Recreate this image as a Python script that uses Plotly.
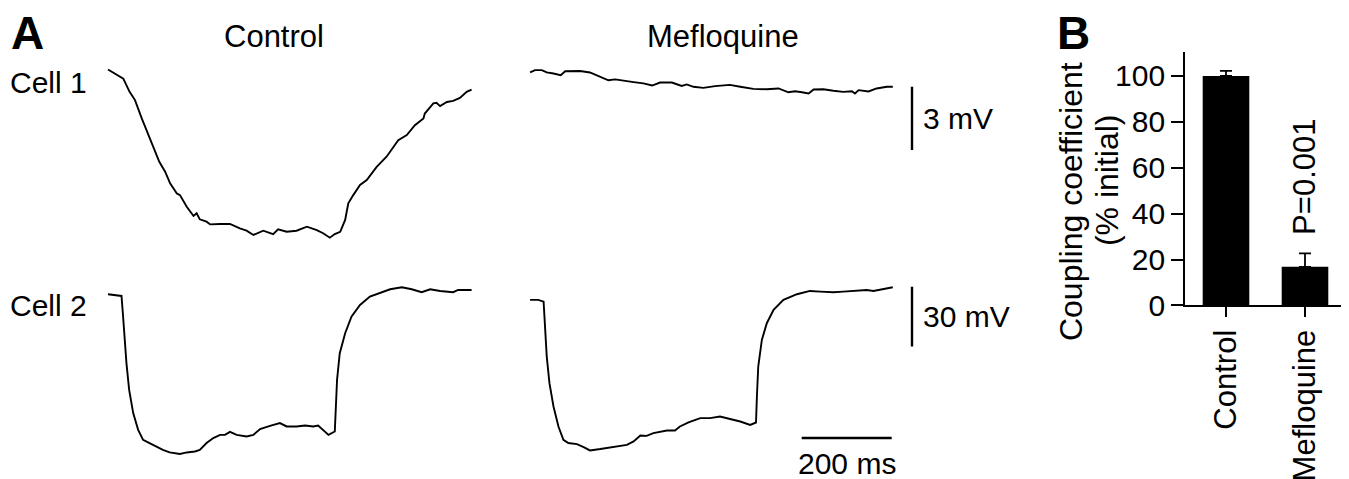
import plotly.graph_objects as go

# The page body keeps its 8 px margin; the captured page is effectively ~496 px tall and is
# squeezed to 479 px, so vertical positions are laid out in that taller space.
OFF = 8
VH = 496.0
SY = VH / 479.0
W, H = 1349 - 2 * OFF, int(VH) - 2 * OFF

# ---------------- DATA ----------------
# Panel A: time within sweep (ms) and voltage change (mV, relative to control baseline)
cell1_control_t = [0, 34, 48, 60, 75, 86, 101, 114, 127, 138, 153, 160, 175, 190, 197, 204, 219, 227,
                   249, 271, 293, 308, 323, 345, 367, 378, 397, 419, 442, 464, 478, 493, 504, 516,
                   527, 534, 545, 560, 575, 597, 619, 645, 664, 682, 701, 704, 723, 730, 738, 753,
                   767, 782, 797, 808]
cell1_control_v = [0, -0.43, -1.06, -1.45, -2.32, -2.88, -3.67, -4.38, -4.85, -5.40, -5.88, -5.96,
                   -6.51, -6.95, -6.82, -7.11, -7.22, -7.35, -7.33, -7.33, -7.54, -7.65, -7.85, -7.65,
                   -7.81, -7.58, -7.70, -7.65, -7.46, -7.62, -7.77, -7.98, -7.81, -7.70, -7.14, -6.35,
                   -5.96, -5.48, -5.25, -4.62, -4.14, -3.35, -3.11, -2.64, -2.32, -2.09, -1.61, -1.58,
                   -1.74, -1.54, -1.49, -1.35, -1.06, -0.95]

cell1_meflo_t = [0, 11, 26, 37, 52, 68, 78, 96, 111, 133, 156, 174, 189, 207, 230, 252, 271, 289, 315,
                 337, 348, 363, 385, 411, 444, 467, 496, 526, 552, 574, 589, 604, 619, 630, 652, 674,
                 696, 715, 722, 730, 752, 770, 793, 806]
cell1_meflo_v = [-0.14, -0.03, -0.03, -0.14, -0.19, -0.27, -0.08, -0.08, -0.07, -0.14, -0.35, -0.51,
                 -0.47, -0.54, -0.60, -0.66, -0.76, -0.62, -0.62, -0.78, -0.71, -0.82, -0.87, -0.79,
                 -0.73, -0.82, -0.92, -0.94, -0.90, -1.08, -1.03, -1.08, -1.14, -0.95, -0.94, -1.01,
                 -1.06, -1.03, -1.14, -0.98, -1.04, -0.90, -0.82, -0.82]

cell2_control_t = [0, 19, 30, 33, 37, 41, 47, 56, 67, 78, 89, 104, 122, 137, 160, 175, 193, 204, 219,
                   234, 249, 260, 271, 286, 308, 323, 338, 360, 382, 397, 419, 438, 456, 467, 478,
                   490, 504, 506, 509, 515, 527, 541, 560, 582, 604, 627, 653, 675, 697, 716, 738,
                   767, 778, 808]
cell2_control_v = [0, -0.35, -0.85, -9.5, -22.9, -34.5, -47.9, -59.5, -67.9, -72.9, -74.2, -75.9,
                   -77.9, -79.2, -80.0, -79.2, -78.7, -77.9, -74.5, -72.0, -70.4, -70.4, -68.9, -70.4,
                   -71.2, -70.4, -67.5, -65.9, -64.5, -66.2, -66.2, -65.7, -66.2, -65.7, -67.9, -70.4,
                   -68.7, -56.2, -42.9, -29.5, -19.5, -11.2, -5.4, -1.2, 0.5, 2.5, 3.5, 2.5, 1.0, 2.5,
                   1.65, 1.0, 2.15, 2.15]

cell2_meflo_t = [0, 18, 30, 33, 37, 43, 52, 63, 74, 85, 104, 119, 133, 156, 185, 215, 230, 245, 259,
                 274, 304, 322, 333, 352, 378, 400, 422, 444, 467, 489, 502, 504, 507, 515, 526, 541,
                 563, 593, 622, 645, 674, 696, 719, 748, 763, 785, 806]
cell2_meflo_v = [-2.85, -2.85, -3.7, -17.9, -31.2, -44.5, -56.2, -66.2, -72.9, -74.5, -75.0, -76.5,
                 -78.2, -77.5, -76.5, -75.4, -73.7, -70.7, -70.9, -69.5, -68.2, -68.2, -66.2, -64.2,
                 -62.0, -62.0, -61.2, -62.5, -63.7, -65.4, -64.2, -51.2, -36.2, -22.9, -14.5, -7.85,
                 -2.85, 0.0, 1.65, 1.3, 1.0, 1.3, 1.8, 2.15, 1.65, 2.65, 3.5]

# Scale bars
scale_time_ms = 200
scale_cell1_mv = 3
scale_cell2_mv = 30

# Panel B
bar_categories = ["Control", "Mefloquine"]
bar_values = [100, 16.8]
bar_err_plus = [2.2, 5.9]
bar_err_minus = [0, 0]
p_label = "P=0.001"
b_ticks = [0, 20, 40, 60, 80, 100]

# ---------------- LAYOUT HELPERS (target pixel -> paper fraction) ----------------
MS_PER_PX = 200 / 90.0
X0_PX = 108            # target pixel where control sweeps start
A_RIGHT_PX = 1040
SWEEP_OFFSET_MS = 938  # horizontal offset of the mefloquine sweeps
SCALE_X_MS = (912 - X0_PX) * MS_PER_PX
TIME_BAR_START_MS = (801.7 - X0_PX) * MS_PER_PX


def px(x):
    return (x - OFF) / W


def py(y):
    return 1 - (y * SY - OFF) / H


FONT = "Liberation Sans, Arial, Helvetica, sans-serif"
LW = 1.9

fig = go.Figure()


def add_line(x, y, yaxis, width=LW):
    fig.add_trace(go.Scatter(x=x, y=y, mode="lines", xaxis="x", yaxis=yaxis,
                             line=dict(color="black", width=width), hoverinfo="skip"))


add_line(cell1_control_t, cell1_control_v, "y")
add_line([t + SWEEP_OFFSET_MS for t in cell1_meflo_t], cell1_meflo_v, "y")
add_line(cell2_control_t, cell2_control_v, "y2")
add_line([t + SWEEP_OFFSET_MS for t in cell2_meflo_t], cell2_meflo_v, "y2")

# scale bars
sb1_top = -0.82
add_line([SCALE_X_MS, SCALE_X_MS], [sb1_top, sb1_top - scale_cell1_mv], "y", width=2.4)
sb2_top = 3.8
add_line([SCALE_X_MS, SCALE_X_MS], [sb2_top, sb2_top - scale_cell2_mv], "y2", width=2.4)
tb_y = -72.0
add_line([TIME_BAR_START_MS, TIME_BAR_START_MS + scale_time_ms], [tb_y, tb_y], "y2", width=2.4)

# Panel B bars
fig.add_trace(go.Bar(
    x=bar_categories, y=bar_values, xaxis="x2", yaxis="y3", width=0.59,
    marker=dict(color="black", line=dict(width=0)),
    error_y=dict(type="data", symmetric=False, array=bar_err_plus, arrayminus=bar_err_minus,
                 color="black", thickness=1.8, width=6),
    hoverinfo="skip"))

# y ranges (cell 1: 21.1 px/mV, cell 2: 2 px/mV), in target pixels
y1_top_px, y1_bot_px, y1_zero_px, y1_scale = 60, 250, 69.3, 21.1
y2_top_px, y2_bot_px, y2_zero_px, y2_scale = 270, 470, 294.3, 2.0
b_top_px, b_bot_px = 51.7, 305.5
b_px_per_unit = (305.5 - 75.7) / 100.0
b_left_px, b_right_px, b_cat_px, b_c0_px = 1185, 1341, 79.0, 1226.0

fig.update_layout(
    width=W, height=H, autosize=False,
    margin=dict(l=0, r=0, t=0, b=0, pad=0),
    paper_bgcolor="white", plot_bgcolor="white",
    showlegend=False,
    font=dict(family=FONT, size=30, color="black"),
    xaxis=dict(domain=[px(OFF), px(A_RIGHT_PX)],
               range=[-(X0_PX - OFF) * MS_PER_PX, (A_RIGHT_PX - X0_PX) * MS_PER_PX],
               visible=False, fixedrange=True),
    yaxis=dict(domain=[py(y1_bot_px), py(y1_top_px)], anchor="x",
               range=[-(y1_bot_px - y1_zero_px) / y1_scale, (y1_zero_px - y1_top_px) / y1_scale],
               visible=False, fixedrange=True),
    yaxis2=dict(domain=[py(y2_bot_px), py(y2_top_px)], anchor="x",
                range=[-(y2_bot_px - y2_zero_px) / y2_scale, (y2_zero_px - y2_top_px) / y2_scale],
                visible=False, fixedrange=True),
    xaxis2=dict(domain=[px(b_left_px), px(b_right_px)], anchor="y3", type="category",
                range=[(b_left_px - b_c0_px) / b_cat_px, (b_right_px - b_c0_px) / b_cat_px],
                showline=True, linecolor="black", linewidth=1.8,
                ticks="outside", ticklen=10, tickwidth=1.8, tickcolor="black",
                tickangle=-90, tickfont=dict(size=31, family=FONT, color="black"),
                showgrid=False, zeroline=False, fixedrange=True),
    yaxis3=dict(domain=[py(b_bot_px), py(b_top_px)], anchor="x2",
                range=[0, (b_bot_px - b_top_px) / b_px_per_unit],
                tickvals=b_ticks, showline=True, linecolor="black", linewidth=1.8,
                ticks="outside", ticklen=12, tickwidth=1.8, tickcolor="black",
                tickfont=dict(size=30, family=FONT, color="black"),
                showgrid=False, zeroline=False, fixedrange=True),
)


def ann(text, x, y, size=30, xanchor="center", yanchor="middle", bold=False, angle=0,
        xref="paper", yref="paper", xshift=0, yshift=0):
    fig.add_annotation(text=("<b>%s</b>" % text) if bold else text, x=x, y=y, xref=xref, yref=yref,
                       xanchor=xanchor, yanchor=yanchor, showarrow=False, textangle=angle,
                       xshift=xshift, yshift=yshift, borderpad=0,
                       font=dict(family=FONT, size=size, color="black"))


ann("A", px(10), py(32.5), size=46, xanchor="left", bold=True)
ann("B", px(1056), py(32.5), size=46, xanchor="left", bold=True)
ann("Control", px(274), py(36), size=31)
ann("Mefloquine", px(723), py(36), size=31)
ann("Cell 1", px(9), py(82), xanchor="left")
ann("Cell 2", px(9), py(306), xanchor="left")
ann("%d mV" % scale_cell1_mv, SCALE_X_MS, sb1_top - scale_cell1_mv / 2, xref="x", yref="y",
    xanchor="left", xshift=10)
ann("%d mV" % scale_cell2_mv, SCALE_X_MS, sb2_top - scale_cell2_mv / 2, xref="x", yref="y2",
    xanchor="left", xshift=10)
ann("%d ms" % scale_time_ms, TIME_BAR_START_MS + scale_time_ms / 2, tb_y, xref="x", yref="y2",
    yshift=-25)
ann("Coupling coefficient", px(1071), py(202), size=32, angle=-90)
ann("(% initial)", px(1107), py(180), size=32, angle=-90)
ann(p_label, 1, 56, xref="x2", yref="y3", size=31, angle=-90)

fig.write_html("out.html")
